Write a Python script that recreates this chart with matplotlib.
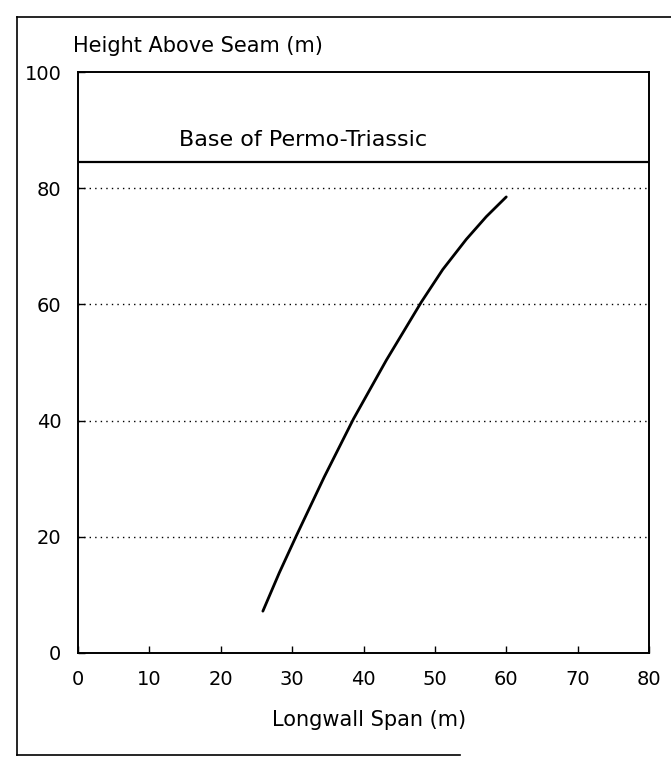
import matplotlib
matplotlib.use('Agg')
import matplotlib.pyplot as plt
from matplotlib.lines import Line2D

# values
span_m = [25.9, 28.2, 30.6, 34.5, 38.6, 43.2, 48.1, 51.1, 54.4, 57.2, 60.0]
height_m = [7.2, 13.8, 20.2, 30.3, 40.3, 50.4, 60.4, 66.0, 71.2, 75.1, 78.5]
base_level = 84.5
grid_levels = [20, 40, 60, 80]
x_ticks = [0, 10, 20, 30, 40, 50, 60, 70, 80]
y_ticks = [0, 20, 40, 60, 80, 100]

W, H = 671, 757
fig = plt.figure(figsize=(W / 100, H / 100), dpi=100)
ax = fig.add_axes([78 / W, 1 - 653 / H, 571 / W, 581 / H])

ax.plot(span_m, height_m, color='black', lw=2.0, solid_capstyle='round', solid_joinstyle='round')
ax.axhline(base_level, color='black', lw=1.6)
for g in grid_levels:
    ax.axhline(g, color='black', lw=1.0, ls=(0, (1, 3)))

ax.text(14.2, 88.3, 'Base of Permo-Triassic', fontsize=16, va='center', ha='left')

ax.set_xlim(0, 80)
ax.set_ylim(0, 100)
ax.set_xticks(x_ticks)
ax.set_yticks(y_ticks)
ax.tick_params(axis='x', direction='in', length=5, width=1, labelsize=14, pad=12)
ax.tick_params(axis='y', direction='in', length=5, width=1, labelsize=14, pad=12)
for s in ax.spines.values():
    s.set_linewidth(1.4)

fig.text(369 / W, 1 - 720 / H, 'Longwall Span (m)', fontsize=15, va='center', ha='center')
fig.text(73 / W, 1 - 46 / H, 'Height Above Seam (m)', fontsize=15, va='center', ha='left')

# outer frame of the scanned page
fig.add_artist(Line2D([17 / W, 1.0], [1 - 17 / H, 1 - 17 / H], color='black', lw=1.2))
fig.add_artist(Line2D([17 / W, 17 / W], [1 - 17 / H, 1 - 755 / H], color='black', lw=1.2))
fig.add_artist(Line2D([17 / W, 460 / W], [1 - 755 / H, 1 - 755 / H], color='black', lw=1.2))

fig.savefig('out.png', dpi=100)
